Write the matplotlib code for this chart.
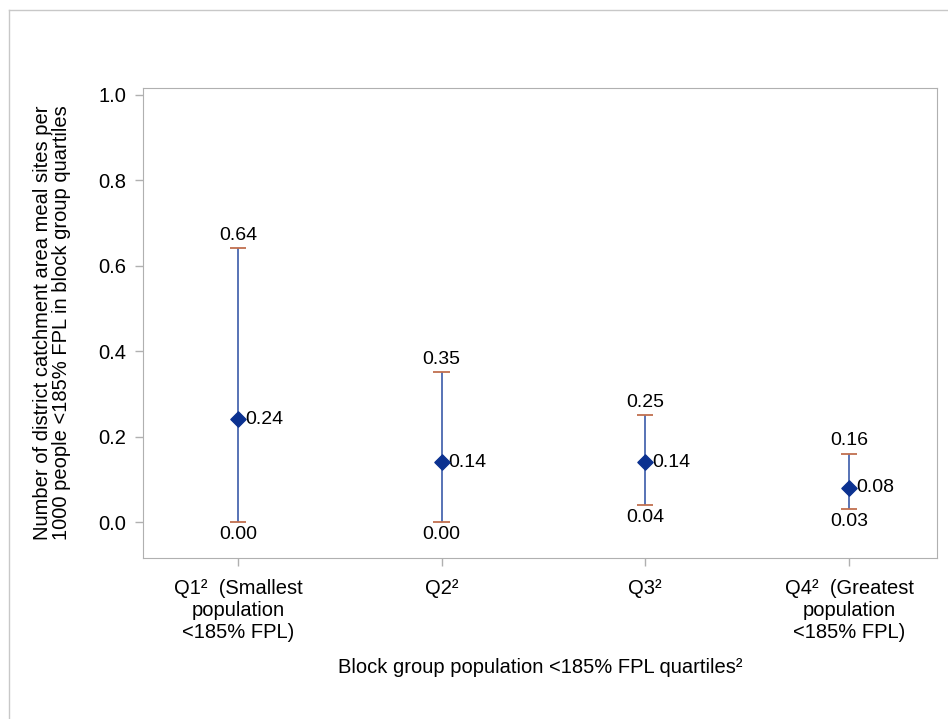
import matplotlib.pyplot as plt
from matplotlib.lines import Line2D

plt.rcParams['font.family'] = ['Liberation Sans', 'DejaVu Sans']

# Data
categories = ["Q1\u00b2  (Smallest\npopulation\n<185% FPL)", "Q2\u00b2", "Q3\u00b2",
              "Q4\u00b2  (Greatest\npopulation\n<185% FPL)"]
means = [0.24, 0.14, 0.14, 0.08]
lower = [0.00, 0.00, 0.04, 0.03]
upper = [0.64, 0.35, 0.25, 0.16]
mean_labels = ["0.24", "0.14", "0.14", "0.08"]
lower_labels = ["0.00", "0.00", "0.04", "0.03"]
upper_labels = ["0.64", "0.35", "0.25", "0.16"]

fig = plt.figure(figsize=(9.48, 7.19), dpi=100)
ax = fig.add_axes([0.151, 0.224, 0.837, 0.654])

x = list(range(1, len(categories) + 1))
for xi, m, lo, hi in zip(x, means, lower, upper):
    ax.vlines(xi, lo, hi, color="#4a68b0", lw=1.3, zorder=2)
    ax.hlines([lo, hi], xi - 0.04, xi + 0.04, color="#c0704f", lw=1.3, zorder=3)
ax.scatter(x, means, marker="D", s=60, color="#0b3190", zorder=4)

for xi, m, lo, hi, ml, ll, ul in zip(x, means, lower, upper, mean_labels, lower_labels, upper_labels):
    ax.annotate(ml, (xi, m), xytext=(5, 0), textcoords="offset points",
                ha="left", va="center", fontsize=14)
    ax.annotate(ul, (xi, hi), xytext=(0, 3), textcoords="offset points",
                ha="center", va="bottom", fontsize=14)
    ax.annotate(ll, (xi, lo), xytext=(0, -3), textcoords="offset points",
                ha="center", va="top", fontsize=14)

ax.set_xlim(0.535, 4.43)
ax.set_ylim(-0.084, 1.016)
ax.set_xticks(x)
ax.set_xticklabels(categories, fontsize=14.5, linespacing=1.2)
ax.set_yticks([0.0, 0.2, 0.4, 0.6, 0.8, 1.0])
ax.set_yticklabels(["0.0", "0.2", "0.4", "0.6", "0.8", "1.0"], fontsize=14.5)
ax.tick_params(axis="both", color="#b0b0b0", length=6, width=1)
ax.tick_params(axis="y", pad=6)
ax.tick_params(axis="x", pad=9)
for s in ax.spines.values():
    s.set_color("#b0b0b0")

ax.set_xlabel("Block group population <185% FPL quartiles\u00b2", fontsize=14.5, labelpad=12)
ax.set_ylabel("Number of district catchment area meal sites per\n1000 people <185% FPL in block group quartiles",
              fontsize=14.5, labelpad=20, linespacing=0.98)

# outer frame (top and left edges visible in the reference)
fig.add_artist(Line2D([0.0095, 0.0095], [0.0, 0.986], color="#c8c8c8", lw=1, transform=fig.transFigure))
fig.add_artist(Line2D([0.0095, 1.0], [0.986, 0.986], color="#c8c8c8", lw=1, transform=fig.transFigure))

fig.savefig("out.png", dpi=100)
